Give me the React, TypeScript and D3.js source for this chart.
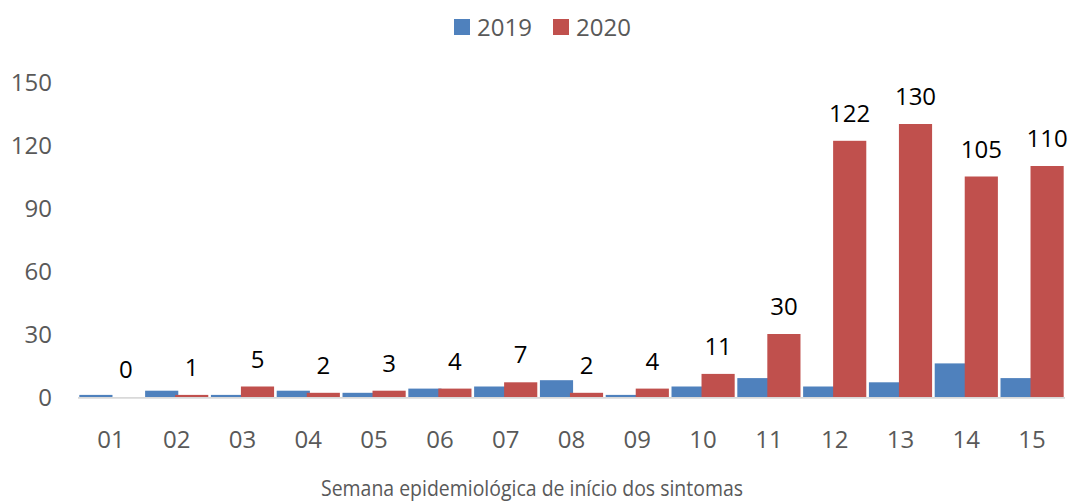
import * as d3 from 'd3'
import { useRef, useEffect } from 'react'

const weeks = ['01', '02', '03', '04', '05', '06', '07', '08', '09', '10', '11', '12', '13', '14', '15']
const cases2019 = [1, 3, 1, 3, 2, 4, 5, 8, 1, 5, 9, 5, 7, 16, 9]
const cases2020 = [0, 1, 5, 2, 3, 4, 7, 2, 4, 11, 30, 122, 130, 105, 110]
const yTicks = [0, 30, 60, 90, 120, 150]
const seriesNames = ['2019', '2020']
const colors = ['#4f81bd', '#c0504d']

export default function App() {
    const svgRef = useRef(null)
    useEffect(() => {
        const width = 1072
        const height = 503
        const font = '"Open Sans", sans-serif'
        const svg = d3.select(svgRef.current)
        svg.selectAll('*').remove()
        svg.attr('width', width).attr('height', height)

        const x = d3.scaleBand().domain(weeks).range([78, 1065]).paddingInner(0.04).paddingOuter(0.02)
        const y = d3.scaleLinear().domain([0, 150]).range([397, 82])
        const bw = x.bandwidth()
        const w = bw * 0.525

        // y labels (no grid lines)
        svg.append('g')
            .selectAll('text')
            .data(yTicks)
            .join('text')
            .attr('x', 52)
            .attr('y', d => y(d) + 8.5)
            .attr('text-anchor', 'end')
            .attr('font-family', font)
            .attr('font-size', 24)
            .attr('fill', '#595959')
            .text(d => d)

        const bars = svg.append('g')
        bars.selectAll('rect.b2019')
            .data(cases2019)
            .join('rect')
            .attr('class', 'b2019')
            .attr('x', (d, i) => x(weeks[i]))
            .attr('width', w)
            .attr('y', d => y(d))
            .attr('height', d => y(0) - y(d))
            .attr('fill', colors[0])
        bars.selectAll('rect.b2020')
            .data(cases2020)
            .join('rect')
            .attr('class', 'b2020')
            .attr('x', (d, i) => x(weeks[i]) + bw - w)
            .attr('width', w)
            .attr('y', d => y(d))
            .attr('height', d => y(0) - y(d))
            .attr('fill', colors[1])

        // data labels for 2020
        svg.append('g')
            .selectAll('text')
            .data(cases2020)
            .join('text')
            .attr('x', (d, i) => x(weeks[i]) + bw - w / 2)
            .attr('y', d => y(d) - 19)
            .attr('text-anchor', 'middle')
            .attr('font-family', font)
            .attr('font-size', 24)
            .attr('fill', '#000')
            .text(d => d)

        // x axis line
        svg.append('line')
            .attr('x1', 78).attr('x2', 1065)
            .attr('y1', y(0) + 0.8).attr('y2', y(0) + 0.8)
            .attr('stroke', '#d9d9d9')
            .attr('stroke-width', 1.7)

        svg.append('g')
            .selectAll('text')
            .data(weeks)
            .join('text')
            .attr('x', d => x(d) + bw / 2)
            .attr('y', 448)
            .attr('text-anchor', 'middle')
            .attr('font-family', font)
            .attr('font-size', 24)
            .attr('fill', '#595959')
            .text(d => d)

        svg.append('text')
            .attr('x', 532)
            .attr('y', 496)
            .attr('text-anchor', 'middle')
            .attr('font-family', font)
            .attr('font-size', 22)
            .attr('textLength', 422)
            .attr('lengthAdjust', 'spacingAndGlyphs')
            .attr('fill', '#595959')
            .text('Semana epidemiológica de início dos sintomas')

        // legend
        const legend = svg.append('g')
        seriesNames.forEach((name, i) => {
            const lx = 454 + i * 99
            legend.append('rect')
                .attr('x', lx).attr('y', 19)
                .attr('width', 16).attr('height', 16)
                .attr('fill', colors[i])
            legend.append('text')
                .attr('x', lx + 23).attr('y', 35.5)
                .attr('font-family', font)
                .attr('font-size', 24)
                .attr('fill', '#595959')
                .text(name)
        })
    }, [])
    return (
        <svg ref={svgRef} style={{ position: 'absolute', left: 0, top: 0 }}></svg>
    )
}
